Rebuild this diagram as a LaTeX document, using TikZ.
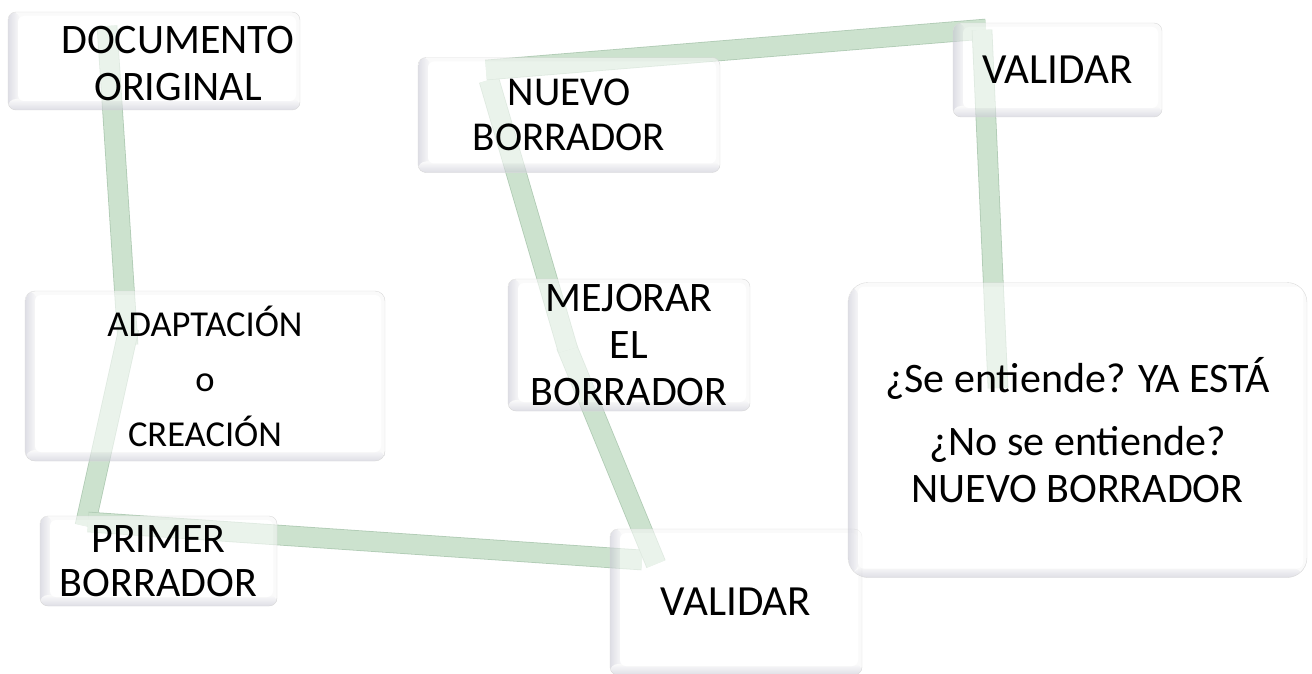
\documentclass[tikz,border=0pt]{standalone}
\usepackage{fontspec}
\setmainfont{Carlito}
\usetikzlibrary{calc}

\definecolor{bandfill}{RGB}{204,226,206}
\definecolor{bandedge}{RGB}{176,203,180}
\definecolor{bevel}{RGB}{200,200,212}

\tikzset{
 box/.style={draw=gray!30, rounded corners=8pt, align=center, inner sep=0pt,
  path picture={
   \begin{scope}[transparency group, opacity=0.6]
   \fill[gray!6] (path picture bounding box.south west) rectangle (path picture bounding box.north east);
   \shade[left color=bevel, right color=gray!6] (path picture bounding box.south west) rectangle ([xshift=12pt]path picture bounding box.north west);
   \shade[bottom color=bevel, top color=gray!6] (path picture bounding box.south west) rectangle ([yshift=11pt]path picture bounding box.south east);
   \fill[white, rounded corners=6pt] ([shift={(10pt,-4pt)}]path picture bounding box.north west) rectangle ([shift={(-4pt,9pt)}]path picture bounding box.south east);
   \end{scope}
  }},
 band/.style={draw=bandedge, line width=0.8pt, double=bandfill, double distance=19pt},
}

\begin{document}
\begin{tikzpicture}[x=1pt, y=-1pt]
\useasboundingbox (0,0) rectangle (1312,674);

% puntos de las bandas
\coordinate (d1) at (107,26);
\coordinate (d2) at (128,345);
\coordinate (a1) at (129,328);
\coordinate (a2) at (85,526);
\coordinate (p1) at (88,522);
\coordinate (p2) at (642,560);
\coordinate (v1) at (656,564);
\coordinate (v2) at (566,345);
\coordinate (m1) at (568,350);
\coordinate (m2) at (489,80);
\coordinate (n1) at (486,70);
\coordinate (n2) at (986,29);
\coordinate (t1) at (982,30);
\coordinate (t2) at (998,388);

\draw[band] (d1) -- (d2);
\draw[band] (a1) -- (a2);
\draw[band] (p1) -- (p2);
\draw[band] (v1) -- (v2);
\draw[band] (m1) -- (m2);
\draw[band] (n1) -- (n2);
\draw[band] (t1) -- (t2);

\node[box, minimum width=292pt, minimum height=98pt] (doc) at (154,61) {};
\node[font=\fontsize{42}{47}\selectfont, align=center] (docTxt) at (178,64) {DOCUMENTO\\ORIGINAL};

\node[box, minimum width=302pt, minimum height=115pt, font=\fontsize{41}{45}\selectfont] (nuevo) at (569,115) {NUEVO\\BORRADOR};
\node[box, minimum width=209pt, minimum height=94pt, font=\fontsize{43}{48}\selectfont] (valA) at (1057.5,70) {VALIDAR};
\node[box, minimum width=360pt, minimum height=170pt, rounded corners=10pt, font=\fontsize{36.5}{55}\selectfont] (adapt) at (205,376) {ADAPTACIÓN\\o\\CREACIÓN};
\node[box, minimum width=242pt, minimum height=132pt, font=\fontsize{42}{47}\selectfont] (mejora) at (629,345) {MEJORAR\\EL\\BORRADOR};
\node[box, minimum width=237pt, minimum height=90pt, font=\fontsize{42}{44}\selectfont] (primer) at (158.5,561) {PRIMER\\BORRADOR};
\node[box, minimum width=252pt, minimum height=146pt, font=\fontsize{43}{48}\selectfont] (valB) at (736,602) {VALIDAR};
\node[box, minimum width=459pt, minimum height=295pt, rounded corners=20pt, font=\fontsize{42}{47}\selectfont] (listo) at (1077.5,430) {¿Se entiende? YA ESTÁ\\[16pt]¿No se entiende?\\NUEVO BORRADOR};
\end{tikzpicture}
\end{document}
